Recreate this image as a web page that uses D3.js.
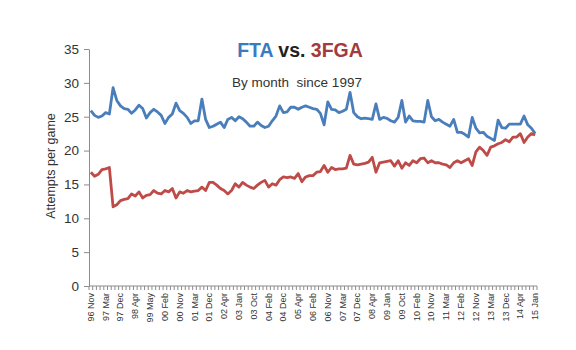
<html>
<head>
<meta charset="UTF-8"/>
<script src="https://d3js.org/d3.v7.min.js"></script>
<title>FTA vs. 3FGA</title>
<style>
body{ margin:0; background:#fff; }
svg{ background-color:#fff; font-family:"Liberation Sans", Arial, sans-serif; }
.yaxis path, .yaxis line{ stroke:#8c8c8c; }
.yaxis text{ fill:#333; font-size:13.5px; }
.xlab{ fill:#333; font-size:9px; }
</style>
</head>
<body>
<svg id='chart' width=576 height=350></svg>
<script>
'use strict';

var categories = [
 '96 Nov','96 Dec','97 Jan','97 Feb','97 Mar','97 Apr','97 May','97 Nov',
 '97 Dec','98 Jan','98 Feb','98 Mar','98 Apr','99 Feb','99 Mar','99 Apr',
 '99 May','99 Nov','99 Dec','00 Jan','00 Feb','00 Mar','00 Apr','00 May',
 '00 Nov','00 Dec','01 Jan','01 Feb','01 Mar','01 Apr','01 May','01 Nov',
 '01 Dec','02 Jan','02 Feb','02 Mar','02 Apr','02 Oct','02 Nov','02 Dec',
 '03 Jan','03 Feb','03 Mar','03 Apr','03 Oct','03 Nov','03 Dec','04 Jan',
 '04 Feb','04 Mar','04 Apr','04 Nov','04 Dec','05 Jan','05 Feb','05 Mar',
 '05 Apr','05 Nov','05 Dec','06 Jan','06 Feb','06 Mar','06 Apr','06 Oct',
 '06 Nov','06 Dec','07 Jan','07 Feb','07 Mar','07 Apr','07 Oct','07 Nov',
 '07 Dec','08 Jan','08 Feb','08 Mar','08 Apr','08 Oct','08 Nov','08 Dec',
 '09 Jan','09 Feb','09 Mar','09 Apr','09 Oct','09 Nov','09 Dec','10 Jan',
 '10 Feb','10 Mar','10 Apr','10 Oct','10 Nov','10 Dec','11 Jan','11 Feb',
 '11 Mar','11 Apr','11 Dec','12 Jan','12 Feb','12 Mar','12 Apr','12 Oct',
 '12 Nov','12 Dec','13 Jan','13 Feb','13 Mar','13 Apr','13 Oct','13 Nov',
 '13 Dec','14 Jan','14 Feb','14 Mar','14 Apr','14 Oct','14 Nov','14 Dec',
 '15 Jan'
];

// free throw attempts per game
var fta = [
 25.9,25.2,24.9,25.1,25.6,25.4,29.3,27.4,26.6,26.2,
 26.1,25.5,26.0,26.7,26.2,24.8,25.6,26.1,25.7,25.2,
 24.0,24.9,25.4,27.0,25.9,25.5,24.9,24.0,24.4,24.4,
 27.6,24.6,23.4,23.6,23.9,24.2,23.4,24.6,24.9,24.4,
 25.0,24.7,24.2,23.6,23.6,24.2,23.7,23.4,23.6,24.4,
 25.1,26.6,25.6,25.7,26.4,26.4,26.1,26.4,26.6,26.4,
 26.2,26.1,25.5,23.8,27.2,26.1,26.0,25.6,25.8,26.1,
 28.6,25.6,25.0,24.7,24.8,24.7,24.6,26.9,24.6,24.9,
 24.75,24.4,24.2,24.9,27.4,24.2,25.1,24.4,24.3,24.3,
 24.2,27.4,25.0,24.4,24.6,24.2,23.9,23.6,24.6,22.7,
 22.7,22.4,22.0,24.9,23.3,22.6,22.7,22.1,21.8,21.5,
 24.5,23.4,23.3,23.9,23.9,23.9,23.9,25.1,23.8,23.3,
 22.5
];

// three point field goal attempts per game
var fga3 = [
 16.8,16.2,16.5,17.2,17.3,17.5,11.7,12.0,12.6,12.8,
 12.9,13.6,13.3,13.9,13.0,13.4,13.5,14.1,13.7,13.6,
 14.1,13.9,14.4,13.0,13.9,13.7,14.1,13.9,14.0,14.1,
 14.6,14.1,15.3,15.3,14.9,14.4,14.1,13.6,14.1,15.1,
 14.6,15.3,14.9,14.6,14.4,14.9,15.3,15.6,14.6,15.1,
 14.9,15.7,16.1,16.0,16.1,15.9,16.6,15.4,16.1,16.3,
 16.3,16.8,16.9,17.8,16.8,17.5,17.2,17.3,17.3,17.4,
 19.3,18.0,17.9,18.0,18.1,18.3,19.0,16.8,18.2,18.3,
 18.4,18.5,17.7,18.5,17.4,18.2,17.8,18.5,18.2,18.8,
 18.9,18.2,18.5,18.2,18.2,18.0,17.9,17.5,18.2,18.5,
 18.2,18.5,18.8,17.8,19.8,20.5,20.0,19.3,20.5,20.7,
 21.0,21.2,21.6,21.3,22.0,22.0,22.5,21.2,22.0,22.5,
 22.3
];

var yTicks = [0,5,10,15,20,25,30,35];
var xLabels = categories.filter(function(d,i){ return i % 4 === 0; });

var svg = d3.select('#chart');

var sx = d3.scaleBand().domain(categories).range([89,537]);
var sy = d3.scaleLinear().domain([0,35]).range([286,49]);

// y axis
var yAxis = d3.axisLeft(sy).tickValues(yTicks).tickSize(5).tickPadding(5).tickSizeOuter(0);
svg.append('g').attr('class','yaxis').attr('transform','translate(89,0)').call(yAxis);

// x axis line + a tick between every month
var gx = svg.append('g').attr('transform','translate(0,286)');
gx.append('line').attr('x1',89).attr('x2',537).attr('y1',0).attr('y2',0)
  .attr('stroke','#8c8c8c');
gx.selectAll('line.tk').data(categories.concat(['end'])).enter()
  .append('line').attr('class','tk')
  .attr('x1', function(d){ return d === 'end' ? sx.range()[1] : sx(d); })
  .attr('x2', function(d){ return d === 'end' ? sx.range()[1] : sx(d); })
  .attr('y1',0).attr('y2',4)
  .attr('stroke','#8c8c8c');

gx.selectAll('text').data(xLabels).enter()
  .append('text').attr('class','xlab')
  .attr('text-anchor','end')
  .attr('transform', function(d){
      return 'translate(' + (sx(d) + sx.bandwidth()/2 + 3) + ',7) rotate(-90)';
  })
  .text(function(d){ return d; });

// lines
var line = d3.line()
  .x(function(d,i){ return sx(categories[i]) + sx.bandwidth()/2; })
  .y(function(d){ return sy(d); });

svg.append('path').datum(fta)
  .attr('d', line).attr('fill','none')
  .attr('stroke','#4a7ebb').attr('stroke-width',2.8)
  .attr('stroke-linejoin','round');

svg.append('path').datum(fga3)
  .attr('d', line).attr('fill','none')
  .attr('stroke','#be4b48').attr('stroke-width',2.8)
  .attr('stroke-linejoin','round');

// titles
var title = svg.append('text').attr('x',300).attr('y',57)
  .attr('text-anchor','middle').attr('font-size','19.5px').attr('font-weight','bold');
title.append('tspan').attr('fill','#3a7bbf').text('FTA');
title.append('tspan').attr('fill','#222').text(' vs. ');
title.append('tspan').attr('fill','#a23a3e').text('3FGA');

svg.append('text').attr('x',297).attr('y',87)
  .attr('text-anchor','middle').attr('font-size','13.5px').attr('fill','#333')
  .style('white-space','pre')
  .text('By month  since 1997');

svg.append('text')
  .attr('transform','translate(55,166) rotate(-90)')
  .attr('text-anchor','middle').attr('font-size','12.5px').attr('fill','#333')
  .text('Attempts per game');

</script>
</body>
</html>
